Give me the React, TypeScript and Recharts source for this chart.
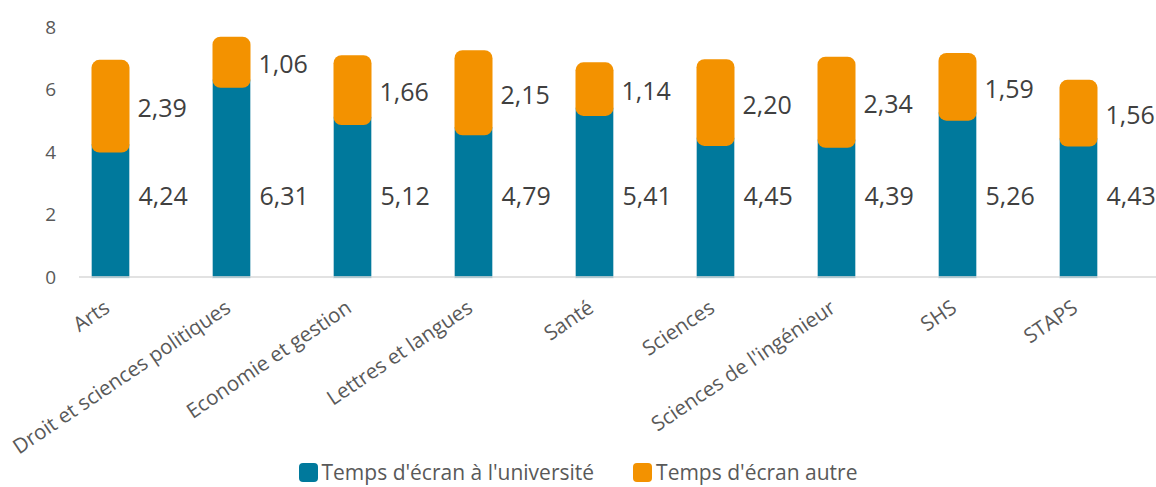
import React from 'react';
import { BarChart, Bar, XAxis, YAxis, Legend, LabelList, ReferenceLine } from 'recharts';

const categories = [
  'Arts',
  'Droit et sciences politiques',
  'Economie et gestion',
  'Lettres et langues',
  'Santé',
  'Sciences',
  "Sciences de l'ingénieur",
  'SHS',
  'STAPS',
];
const tempsUniversite = [4.24, 6.31, 5.12, 4.79, 5.41, 4.45, 4.39, 5.26, 4.43];
const tempsAutre = [2.39, 1.06, 1.66, 2.15, 1.14, 2.2, 2.34, 1.59, 1.56];
const yTicks = [0, 2, 4, 6, 8];

const TEAL = '#00799C';
const ORANGE = '#F39200';
const FONT = '"Open Sans", sans-serif';

const data = categories.map((name, i) => ({
  name,
  univ: tempsUniversite[i],
  autre: tempsAutre[i],
}));

const fmt = (v: number) => v.toFixed(2).replace('.', ',');

// orange block is drawn a bit larger than its segment, rounded on all corners
function OrangeShape(p: any) {
  return <rect x={p.x} y={p.y - 10} width={p.width} height={p.height + 18} rx={8} ry={8} fill={ORANGE} />;
}

function TealShape(p: any) {
  return <rect x={p.x} y={p.y} width={p.width} height={p.height + 1} fill={TEAL} stroke="#cfe3ea" strokeWidth={0.6} />;
}

function UnivLabel(p: any) {
  const { x, y, width, height, value } = p;
  return (
    <text x={x + width + 9} y={y + height - 82} dominantBaseline="central" fill="#404040" fontSize={25} fontFamily={FONT}>
      {fmt(value)}
    </text>
  );
}

function AutreLabel(p: any) {
  const { x, y, width, height, value } = p;
  return (
    <text x={x + width + 8} y={y + height / 2} dominantBaseline="central" fill="#404040" fontSize={25} fontFamily={FONT}>
      {fmt(value)}
    </text>
  );
}

function CatTick({ x, y, payload }: any) {
  const px = x + 1;
  const py = y + 32;
  return (
    <text x={px} y={py} transform={`rotate(-34 ${px} ${py})`} textAnchor="end" fill="#595959" fontSize={20.5} fontFamily={FONT}>
      {payload.value}
    </text>
  );
}

function LegendContent() {
  const items = [
    { label: "Temps d'écran à l'université", color: TEAL },
    { label: "Temps d'écran autre", color: ORANGE },
  ];
  return (
    <div style={{ display: 'flex', justifyContent: 'center', gap: 39, fontFamily: FONT, fontSize: 21, color: '#595959' }}>
      {items.map((it) => (
        <div key={it.label} style={{ display: 'flex', alignItems: 'center' }}>
          <span style={{ width: 19, height: 19, borderRadius: 4, background: it.color, display: 'inline-block', marginRight: 4 }} />
          <span>{it.label}</span>
        </div>
      ))}
    </div>
  );
}

export default function App() {
  return (
    <div style={{ width: 1156, height: 487, overflow: 'hidden', position: 'relative', background: '#fff' }}>
      <style>{'body{margin:0}'}</style>
      <BarChart width={1168} height={487} data={data} margin={{ top: 27, right: 0, left: 0, bottom: 0 }}>
        <YAxis
          domain={[0, 8]}
          ticks={yTicks}
          width={79}
          axisLine={false}
          tickLine={false}
          tickSize={0}
          tickMargin={23}
          tick={{ fill: '#595959', fontSize: 19, fontFamily: FONT }}
        />
        <XAxis
          dataKey="name"
          height={210}
          interval={0}
          padding={{ left: -29.5, right: 29.5 }}
          axisLine={false}
          tickLine={false}
          tickSize={0}
          tick={<CatTick />}
        />
        <Bar dataKey="univ" stackId="a" barSize={38} shape={<TealShape />} isAnimationActive={false} name="Temps d'écran à l'université">
          <LabelList dataKey="univ" content={<UnivLabel />} />
        </Bar>
        <Bar dataKey="autre" stackId="a" barSize={38} shape={<OrangeShape />} isAnimationActive={false} name="Temps d'écran autre">
          <LabelList dataKey="autre" content={<AutreLabel />} />
        </Bar>
        <ReferenceLine y={0} stroke="#d9d9d9" strokeWidth={1.5} />
        <Legend
          verticalAlign="middle"
          align="center"
          content={<LegendContent />}
          wrapperStyle={{ top: 458, left: 0, width: 1156 }}
        />
      </BarChart>
    </div>
  );
}
